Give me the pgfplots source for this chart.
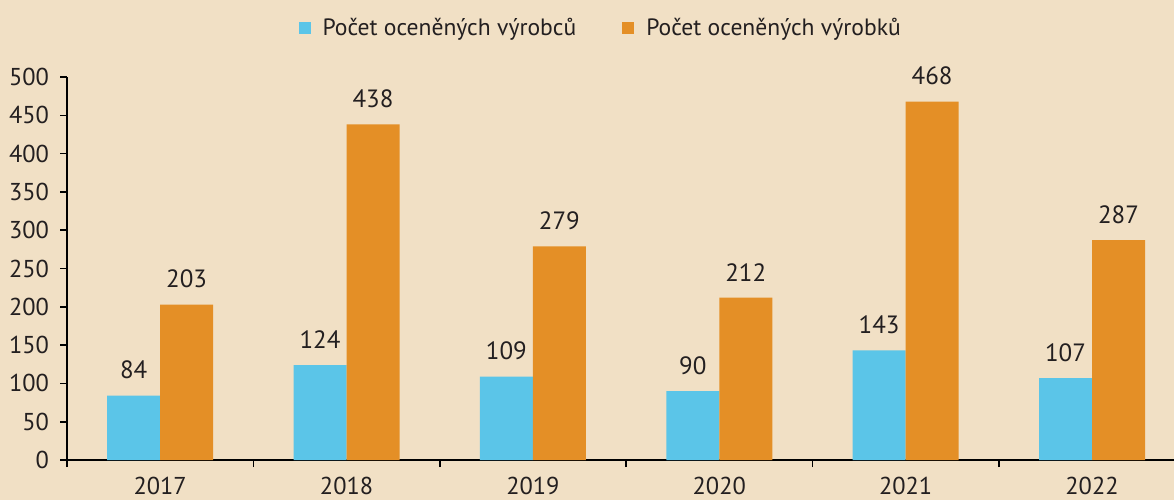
\documentclass[border=0pt]{standalone}
\usepackage{fontspec}
\setmainfont{PT Sans}
\usepackage{pgfplots}
\pgfplotsset{compat=1.18}
\definecolor{bg}{HTML}{F1E0C5}
\definecolor{cblue}{HTML}{5BC5E8}
\definecolor{corange}{HTML}{E48F26}
\definecolor{txt}{HTML}{231F20}
\pgfplotstableread{
x v1 v2
0 84 203
1 124 438
2 109 279
3 90 212
4 143 468
5 107 287
}\datatable
\begin{document}
\begin{tikzpicture}[x=1pt,y=1pt]
\fill[bg] (0,0) rectangle (587,250);
\useasboundingbox (0,0) rectangle (587,250);
\begin{axis}[
  at={(33.5pt,20pt)}, anchor=south west,
  scale only axis, width=553.5pt, height=191.5pt,
  xmin=-0.5, xmax=5.44, ymin=0, ymax=500,
  axis lines*=left,
  axis line style={line width=1pt, black},
  tick align=outside,
  tick style={line width=0.8pt, black},
  major tick length=3.5pt, minor tick length=3.5pt,
  ytick={0,50,...,500},
  xtick={0,...,5}, xticklabels={2017,2018,2019,2020,2021,2022},
  major x tick style={draw=none},
  minor xtick={-0.5,0.5,1.5,2.5,3.5,4.5},
  ticklabel style={font=\fontsize{12.2}{14}\selectfont, text=txt},
  xticklabel style={yshift=-1.5pt},
  yticklabel style={xshift=-2pt},
  /pgf/number format/assume math mode=true,
  ybar=0pt, bar width=26.5pt,
  nodes near coords,
  every node near coord/.append style={font=\fontsize{12.5}{14}\selectfont, text=txt, anchor=south, inner sep=0pt, yshift=8pt},
  legend columns=2,
  legend style={draw=none, fill=none, at={(0.483,1.128)}, anchor=center,
    font=\fontsize{11.8}{14}\selectfont, text=txt,
    /tikz/every even column/.append style={column sep=21pt}},
  legend image code/.code={\fill[#1] (0pt,-3pt) rectangle (6pt,3pt); \path (10pt,0pt);},
]
\addplot[fill=cblue, draw=none] table[x=x, y=v1] {\datatable};
\addplot[fill=corange, draw=none] table[x=x, y=v2] {\datatable};
\legend{Počet oceněných výrobců, Počet oceněných výrobků}
\end{axis}
\end{tikzpicture}
\end{document}
